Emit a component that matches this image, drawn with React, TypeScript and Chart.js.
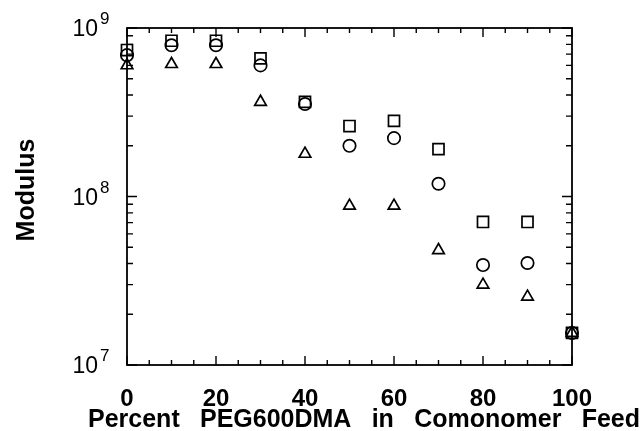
import React, { useEffect, useRef } from "react";
import { Chart, registerables } from "chart.js";

Chart.register(...registerables);

const feedPercent = [0, 10, 20, 30, 40, 50, 60, 70, 80, 90, 100];
const squareSeries = [7.4e8, 8.4e8, 8.4e8, 6.6e8, 3.64e8, 2.62e8, 2.81e8, 1.91e8, 7.06e7, 7.06e7, 1.55e7];
const circleSeries = [6.9e8, 7.9e8, 7.9e8, 6.0e8, 3.54e8, 2.0e8, 2.22e8, 1.19e8, 3.92e7, 4.03e7, 1.55e7];
const triangleSeries = [6.0e8, 6.1e8, 6.1e8, 3.64e8, 1.79e8, 8.8e7, 8.8e7, 4.8e7, 2.99e7, 2.54e7, 1.55e7];
const xTickLabels = [0, 20, 40, 60, 80, 100];
const yDecades = [7, 8, 9];
const xTitleWords = ["Percent", "PEG600DMA", "in", "Comonomer", "Feed"];
const yTitle = "Modulus";

const toPoints = (ys: number[]) => feedPercent.map((x, i) => ({ x, y: ys[i] }));

const framePlugin = {
  id: "frame",
  beforeDatasetsDraw(chart: any) {
    const { ctx, chartArea } = chart;
    const xs = chart.scales.x;
    const ys = chart.scales.y;
    const { left, right, top, bottom } = chartArea;
    ctx.save();
    ctx.strokeStyle = "#000";
    ctx.fillStyle = "#000";
    ctx.lineWidth = 1.8;
    ctx.strokeRect(left, top, right - left, bottom - top);

    ctx.lineWidth = 1.4;
    for (let v = 0; v <= 100; v += 5) {
      const px = xs.getPixelForValue(v);
      const len = v % 20 === 0 ? 9 : 5;
      ctx.beginPath();
      ctx.moveTo(px, bottom);
      ctx.lineTo(px, bottom - len);
      ctx.moveTo(px, top);
      ctx.lineTo(px, top + len);
      ctx.stroke();
    }
    for (let e = 7; e <= 9; e++) {
      for (let k = 1; k <= 9; k++) {
        const val = k * Math.pow(10, e);
        if (val > 1e9 + 1) break;
        const py = ys.getPixelForValue(val);
        const len = k === 1 ? 10 : 6;
        ctx.beginPath();
        ctx.moveTo(left, py);
        ctx.lineTo(left + len, py);
        ctx.moveTo(right, py);
        ctx.lineTo(right - len, py);
        ctx.stroke();
      }
    }

    ctx.font = "bold 24px 'Liberation Sans', Arial, sans-serif";
    ctx.textAlign = "center";
    ctx.textBaseline = "alphabetic";
    xTickLabels.forEach((v) => {
      ctx.fillText(String(v), xs.getPixelForValue(v), bottom + 41);
    });

    yDecades.forEach((e) => {
      const py = ys.getPixelForValue(Math.pow(10, e));
      ctx.font = "23px 'Liberation Sans', Arial, sans-serif";
      ctx.textAlign = "right";
      ctx.textBaseline = "middle";
      ctx.fillText("10", 98, py + 2);
      ctx.font = "17px 'Liberation Sans', Arial, sans-serif";
      ctx.textAlign = "left";
      ctx.textBaseline = "top";
      ctx.fillText(String(e), 100, py - 17);
    });

    ctx.font = "bold 25px 'Liberation Sans', Arial, sans-serif";
    ctx.textAlign = "left";
    ctx.textBaseline = "alphabetic";
    const widths = xTitleWords.map((w) => ctx.measureText(w).width);
    const startX = 88;
    const endX = 640;
    const sumW = widths.reduce((a, b) => a + b, 0);
    const gap = (endX - startX - sumW) / (xTitleWords.length - 1);
    let cx = startX;
    xTitleWords.forEach((w, i) => {
      ctx.fillText(w, cx, 427);
      cx += widths[i] + gap;
    });

    ctx.translate(34, 190);
    ctx.rotate(-Math.PI / 2);
    ctx.textAlign = "center";
    ctx.textBaseline = "alphabetic";
    ctx.fillText(yTitle, 0, 0);
    ctx.restore();
  },
};

export default function App() {
  const ref = useRef<HTMLCanvasElement | null>(null);
  useEffect(() => {
    document.body.style.margin = "0";
    document.body.style.background = "#fff";
    const canvas = ref.current!;
    const common = {
      showLine: false,
      backgroundColor: "rgba(0,0,0,0)",
      borderColor: "#000",
      pointBorderWidth: 1.7,
      pointBackgroundColor: "rgba(0,0,0,0)",
      pointBorderColor: "#000",
      clip: false as any,
    };
    const chart = new Chart(canvas, {
      type: "scatter",
      data: {
        datasets: [
          { ...common, label: "square", data: toPoints(squareSeries), pointStyle: "rect", pointRadius: 7.8 },
          { ...common, label: "circle", data: toPoints(circleSeries), pointStyle: "circle", pointRadius: 6.2 },
          { ...common, label: "triangle", data: toPoints(triangleSeries), pointStyle: "triangle", pointRadius: 6.7 },
        ],
      },
      options: {
        responsive: false,
        animation: false,
        events: [],
        layout: { padding: { left: 127, right: 72, top: 28, bottom: 66 } },
        plugins: { legend: { display: false }, tooltip: { enabled: false } },
        scales: {
          x: { type: "linear", min: 0, max: 100, display: false },
          y: { type: "logarithmic", min: 1e7, max: 1e9, display: false },
        },
      },
      plugins: [framePlugin],
    });
    return () => chart.destroy();
  }, []);
  return (
    <div style={{ position: "fixed", left: 0, top: 0, width: 644, height: 431, background: "#fff" }}>
      <canvas ref={ref} width={644} height={431} style={{ display: "block" }} />
    </div>
  );
}
